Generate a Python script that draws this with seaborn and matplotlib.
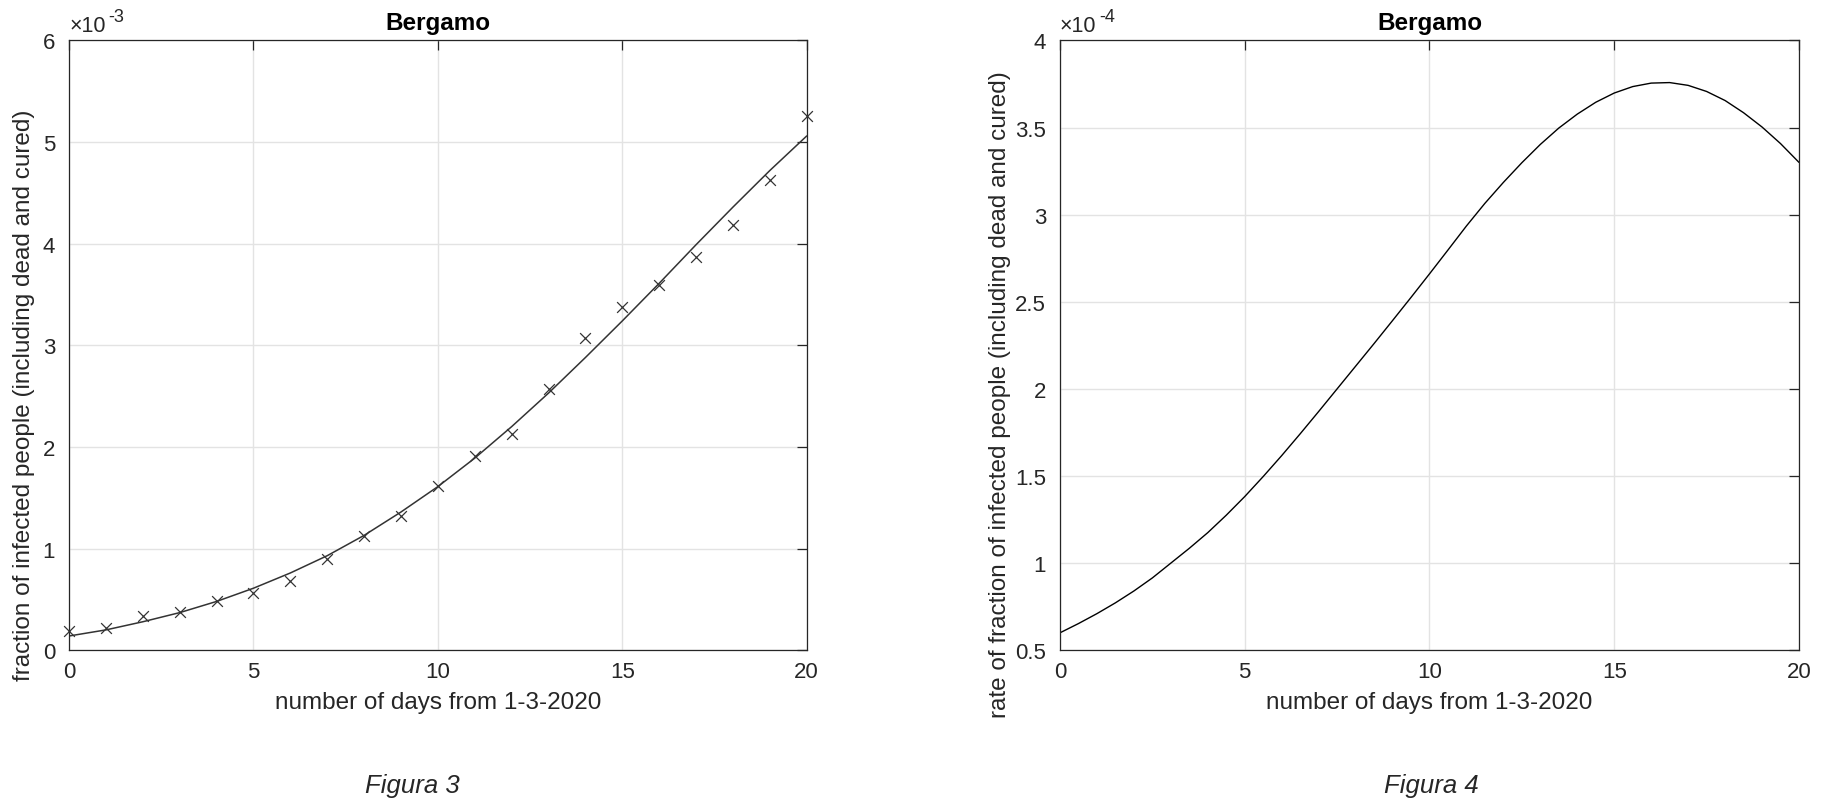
import numpy as np
import pandas as pd
import matplotlib
matplotlib.use("Agg")
import matplotlib.pyplot as plt
import seaborn as sns

# days from 1-3-2020
days = np.arange(0, 21)

# observed fraction of infected people (x 1e-3)
fraction_obs = np.array([0.19, 0.22, 0.34, 0.38, 0.48, 0.56, 0.68, 0.90, 1.12, 1.32, 1.62,
                         1.91, 2.13, 2.57, 3.07, 3.38, 3.59, 3.87, 4.18, 4.63, 5.26]) * 1e-3

# fitted curve (x 1e-3)
fraction_fit = np.array([0.14, 0.20, 0.28, 0.37, 0.48, 0.61, 0.76, 0.93, 1.13, 1.36, 1.61,
                         1.89, 2.20, 2.53, 2.88, 3.24, 3.61, 3.99, 4.36, 4.72, 5.06]) * 1e-3

# rate of the fitted curve, read every half day (x 1e-4)
rate_days = np.arange(0, 20.5, 0.5)
rate_fit = np.array([0.60, 0.653, 0.71, 0.772, 0.84, 0.915, 1.00, 1.085, 1.175, 1.275,
                     1.382, 1.497, 1.617, 1.742, 1.87, 2.00, 2.13, 2.26, 2.392, 2.525,
                     2.66, 2.797, 2.935, 3.065, 3.185, 3.298, 3.403, 3.497, 3.577, 3.645,
                     3.698, 3.735, 3.755, 3.758, 3.742, 3.707, 3.655, 3.585, 3.503, 3.408,
                     3.30]) * 1e-4

x_ticks = [0, 5, 10, 15, 20]
left_yticks = [0, 1, 2, 3, 4, 5, 6]
right_yticks = [0.5, 1, 1.5, 2, 2.5, 3, 3.5, 4]

df_fit = pd.DataFrame({"day": days, "obs": fraction_obs, "fit": fraction_fit})
df_rate = pd.DataFrame({"day": rate_days, "rate": rate_fit})

sns.set_style("white")
plt.rcParams['font.family'] = ['Liberation Sans', 'DejaVu Sans']

txt = '#262626'
fig = plt.figure(figsize=(18.26, 8.12), dpi=100)
ax1 = fig.add_axes([0.0378, 0.198, 0.404, 0.751])
ax2 = fig.add_axes([0.5805, 0.198, 0.4047, 0.751])


def style_axes(ax, yticks, scale, exp):
    ax.set_xlim(0, 20)
    ax.set_xticks(x_ticks)
    ax.set_xticklabels([str(t) for t in x_ticks])
    ax.set_ylim(yticks[0] * scale, yticks[-1] * scale)
    ax.set_yticks([t * scale for t in yticks])
    ax.set_yticklabels([f"{t:g}" for t in yticks])
    ax.grid(True, color='#e3e3e3', linewidth=1)
    ax.set_axisbelow(True)
    for s in ax.spines.values():
        s.set_color(txt)
        s.set_linewidth(0.9)
        s.set_visible(True)
    ax.tick_params(direction='in', length=7, width=0.9, colors=txt, labelsize=16,
                   top=True, right=True)
    ax.tick_params(axis='x', pad=8)
    ax.tick_params(axis='y', pad=10)
    ax.set_xlabel("number of days from 1-3-2020", fontsize=17.5, color=txt, labelpad=6)
    ax.set_title("Bergamo", fontsize=17.5, fontweight='bold', color='black', pad=8)
    # exponent label like MATLAB: x10 with a raised power
    ax.annotate("\u00d710", xy=(0, 1), xycoords='axes fraction', xytext=(0, 3),
                textcoords='offset points', ha='left', va='bottom', fontsize=15.5, color=txt)
    ax.annotate(exp, xy=(0, 1), xycoords='axes fraction', xytext=(28, 11),
                textcoords='offset points', ha='left', va='bottom', fontsize=13, color=txt)


# Figura 3
sns.lineplot(data=df_fit, x="day", y="fit", ax=ax1, color='#333333', linewidth=1.1)
sns.scatterplot(data=df_fit, x="day", y="obs", ax=ax1, marker='x', color='#333333',
                s=60, linewidth=0.9, clip_on=False, zorder=3)
style_axes(ax1, left_yticks, 1e-3, "-3")
ax1.set_ylabel("fraction of infected people (including dead and cured)", fontsize=17.5,
               color=txt)
ax1.yaxis.set_label_coords(-0.046, 0.42)

# Figura 4
sns.lineplot(data=df_rate, x="day", y="rate", ax=ax2, color='black', linewidth=1.0)
style_axes(ax2, right_yticks, 1e-4, "-4")
ax2.set_ylabel("rate of fraction of infected people (including dead and cured)", fontsize=17.5,
               color=txt)
ax2.yaxis.set_label_coords(-0.0666, 0.42)

fig.text(0.226, 0.032, "Figura 3", ha='center', va='center', fontsize=18.5, style='italic')
fig.text(0.784, 0.032, "Figura 4", ha='center', va='center', fontsize=18.5, style='italic')

fig.savefig("out.png", dpi=100)
